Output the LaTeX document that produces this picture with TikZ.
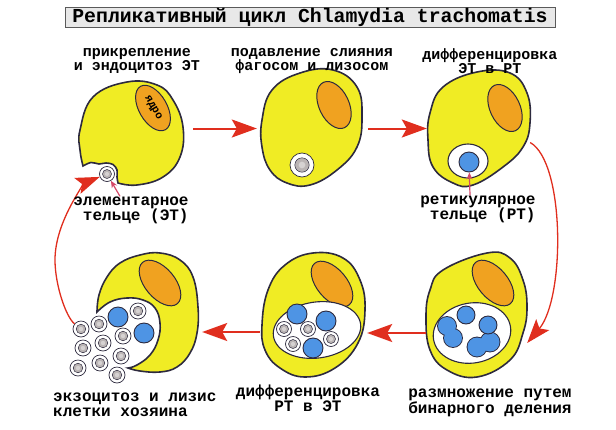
\documentclass[tikz,border=0pt]{standalone}
\usepackage{fontspec}
\setmonofont{Liberation Mono}
\usetikzlibrary{arrows.meta}

\definecolor{cellyellow}{RGB}{240,236,36}
\definecolor{nucorange}{RGB}{240,162,32}
\definecolor{edge}{RGB}{45,42,62}
\definecolor{rtblue}{RGB}{78,148,228}
\definecolor{etgray}{RGB}{186,180,180}
\definecolor{etlight}{RGB}{214,210,210}
\definecolor{flowred}{RGB}{224,46,30}
\definecolor{pinkred}{RGB}{212,72,104}
\definecolor{boxgray}{RGB}{232,232,232}
\definecolor{boxedge}{RGB}{90,90,90}

\tikzset{
  cell/.style={draw=edge, fill=cellyellow, line width=1.6},
  nucleus/.style={draw=edge, fill=nucorange, line width=1},
  vacuole/.style={draw=edge, fill=white, line width=1.1},
  rt/.style={circle, draw=edge, fill=rtblue, line width=0.9, minimum size=#1, inner sep=0pt},
  et/.style={circle, draw=edge, fill=white, line width=0.7, minimum size=#1, inner sep=0pt,
    path picture={\draw[edge, fill=etgray, line width=0.5] (path picture bounding box.center) circle[radius=0.3*#1];
      \fill[etlight] (path picture bounding box.center) circle[radius=0.14*#1];}},
  cellbox/.style={inner sep=0pt},
  bigflow/.style={draw=flowred, line width=2, -{Stealth[length=25pt,width=18pt,inset=5pt]}},
  curveflow/.style={draw=flowred, line width=1.3, -{Stealth[length=24pt,width=17pt,inset=5pt]}},
  pointer/.style={draw=pinkred, line width=1.2, -{Stealth[length=7pt,width=6pt]}},
  caption/.style={font=\fontsize{16}{15}\selectfont\ttfamily\bfseries, align=center, inner sep=0pt},
  topcaption/.style={caption, font=\fontsize{15}{13}\selectfont\ttfamily\bfseries}
}

\begin{document}
\begin{tikzpicture}[x=1pt, y=-1pt]
  \useasboundingbox (0,0) rectangle (616,429);

  % title
  \node[draw=boxedge, fill=boxgray, line width=1, minimum width=490, minimum height=20, inner sep=0pt,
    font=\fontsize{19.8}{20}\selectfont\ttfamily\bfseries] (title) at (310,17) {Репликативный цикл Chlamydia trachomatis};

  % cell frames for the connectors
  \node[cellbox, minimum width=103, minimum height=102] (attach) at (131.5,134) {};
  \node[cellbox, minimum width=102, minimum height=117] (fusion) at (311,128.5) {};
  \node[cellbox, minimum width=102, minimum height=113] (convert) at (479,128.5) {};
  \node[cellbox, minimum width=101, minimum height=124] (divide) at (476.5,315) {};
  \node[cellbox, minimum width=103, minimum height=124] (mature) at (313.5,315) {};
  \node[cellbox, minimum width=101, minimum height=124] (release) at (147.5,315) {};

  % attachment
  \draw[cell] plot[smooth, tension=0.7] coordinates {(83,166) (80,150) (80,130) (93,97) (127,82) (157,85) (173,100) (183,127) (180,157) (163,177) (137,185) (118,183)}
    -- plot[smooth, tension=0.6] coordinates {(118,183) (117,177) (117,170) (113,164.5) (106,163) (99,164) (91,162.5) (83,166)} -- cycle;
  \draw[nucleus, shift={(153,108)}, rotate=30] (0,0) ellipse[x radius=14, y radius=25];
  \node[rotate=-60, font=\fontsize{11}{11}\selectfont\ttfamily\bfseries, inner sep=0pt] (nuctext) at (153,108) {ядро};
  \node[et=15] (et1) at (107,174) {};

  % phagosome
  \draw[cell] plot[smooth cycle, tension=0.7] coordinates {(262,120) (272,90) (300,73) (333,70) (357,87) (362,117) (357,147) (337,170) (310,185) (287,183) (270,170) (262,147)};
  \draw[nucleus, shift={(334,105)}, rotate=25] (0,0) ellipse[x radius=15, y radius=25];
  \node[et=24] (phago) at (302,165) {};

  % ET -> RT
  \draw[cell] plot[smooth cycle, tension=0.7] coordinates {(430,113) (443,87) (477,72) (510,73) (527,93) (530,123) (523,147) (503,167) (473,185) (453,183) (433,167) (428,140)};
  \draw[nucleus, shift={(505,108)}, rotate=25] (0,0) ellipse[x radius=15, y radius=25];
  \draw[vacuole, shift={(468,161)}] (0,0) ellipse[x radius=20, y radius=17];
  \node[rt=20] (rt1) at (469,162) {};

  % binary fission
  \draw[cell] plot[smooth cycle, tension=0.7] coordinates {(426,317) (430,290) (443,270) (487,253) (510,258) (523,280) (527,307) (523,333) (510,360) (477,377) (447,370) (430,350)};
  \draw[nucleus, shift={(493,283)}, rotate=40] (0,0) ellipse[x radius=15, y radius=27];
  \draw[vacuole, shift={(472,333)}, rotate=10] (0,0) ellipse[x radius=39, y radius=30];
  \draw[edge, line width=1.8] (447,326) circle[radius=9] (453,338) circle[radius=9]
    (477,347) circle[radius=9.5] (490,342) circle[radius=9.5];
  \fill[rtblue] (447,326) circle[radius=9] (453,338) circle[radius=9]
    (477,347) circle[radius=9.5] (490,342) circle[radius=9.5];
  \node[rt=18] (split1) at (466,315) {};
  \node[rt=18] (split2) at (488,325) {};

  % RT -> ET
  \draw[cell] plot[smooth cycle, tension=0.7] coordinates {(262,325) (268,290) (285,265) (313,253) (343,258) (360,280) (365,310) (358,343) (335,368) (305,377) (280,368) (265,350)};
  \draw[nucleus, shift={(332,284)}, rotate=40] (0,0) ellipse[x radius=15, y radius=27];
  \draw[vacuole, shift={(317,330)}, rotate=8] (0,0) ellipse[x radius=44, y radius=28];
  \foreach \x/\y [count=\i] in {297/314, 326/321, 313/348}
    \node[rt=20] (ripe\i) at (\x,\y) {};
  \foreach \x/\y [count=\i] in {284/329, 308/329, 293/344, 331/339}
    \node[et=15] (young\i) at (\x,\y) {};

  % exocytosis
  \draw[cell] plot[smooth, tension=0.7] coordinates {(97,312) (99,295) (107,277) (120,263) (140,255) (160,253) (180,260) (193,277) (198,307) (197,333) (190,353) (177,367) (160,372) (140,371) (128,368)}
    -- plot[smooth, tension=0.7] coordinates {(128,368) (137,365) (150,355) (158,340) (160,323) (155,308) (143,300) (127,298) (110,302) (97,312)} -- cycle;
  \draw[nucleus, shift={(160,283)}, rotate=40] (0,0) ellipse[x radius=15, y radius=27];
  \node[rt=20] (left1) at (118,317) {};
  \node[rt=20] (left2) at (144,333) {};
  \foreach \x/\y [count=\i] in {81/329, 99/324, 138/311, 123/336, 83/348, 103/343, 121/356, 78/368, 100/363, 117/375}
    \node[et=16] (free\i) at (\x,\y) {};

  % cycle arrows
  \draw[bigflow, shorten <=10pt, shorten >=3pt] (attach.east |- fusion.west) -- (fusion.west);
  \draw[bigflow, shorten <=6pt, shorten >=1pt] (fusion.east |- convert.west) -- (convert.west);
  \draw[curveflow] ([yshift=-14pt]convert.east) .. controls +(35,20) and +(38,-45) .. ([yshift=-28pt]divide.east);
  \draw[bigflow, shorten >=2pt] ([yshift=-18pt]divide.west) -- ([yshift=-18pt]mature.east);
  \draw[bigflow, shorten <=2pt, shorten >=4pt] ([yshift=-17pt]mature.west) -- ([yshift=-17pt]release.east);
  \coordinate (bend) at (55,260);
  \draw[curveflow] (free1) .. controls +(-15,-12) and +(0,25) .. (bend) .. controls +(0,-40) and +(-20,8) .. (et1);

  % captions
  \node[topcaption] (attachtext) at (137,61) {прикрепление\\и эндоцитоз ЭТ};
  \node[topcaption] (fusiontext) at (312,61) {подавление слияния\\фагосом и лизосом};
  \node[topcaption] (converttext) at (490,61) {дифференцировка\\ЭТ в РТ};
  \node[caption, align=right] (etlabel) at (131,210) {элементарное\\тельце (ЭТ)};
  \node[caption, align=right] (rtlabel) at (478,209) {ретикулярное\\тельце (РТ)};
  \node[caption, align=left, anchor=west] (releasetext) at (53,405) {экзоцитоз и лизис\\клетки хозяина};
  \node[caption] (maturetext) at (308,398) {дифференцировка\\РТ в ЭТ};
  \node[caption] (dividetext) at (490,403) {размножение путем\\бинарного деления};

  \draw[pointer] ([xshift=-11pt]etlabel.north) -- (et1);
  \draw[pointer] ([xshift=-8pt]rtlabel.north) -- (rt1);
\end{tikzpicture}
\end{document}
